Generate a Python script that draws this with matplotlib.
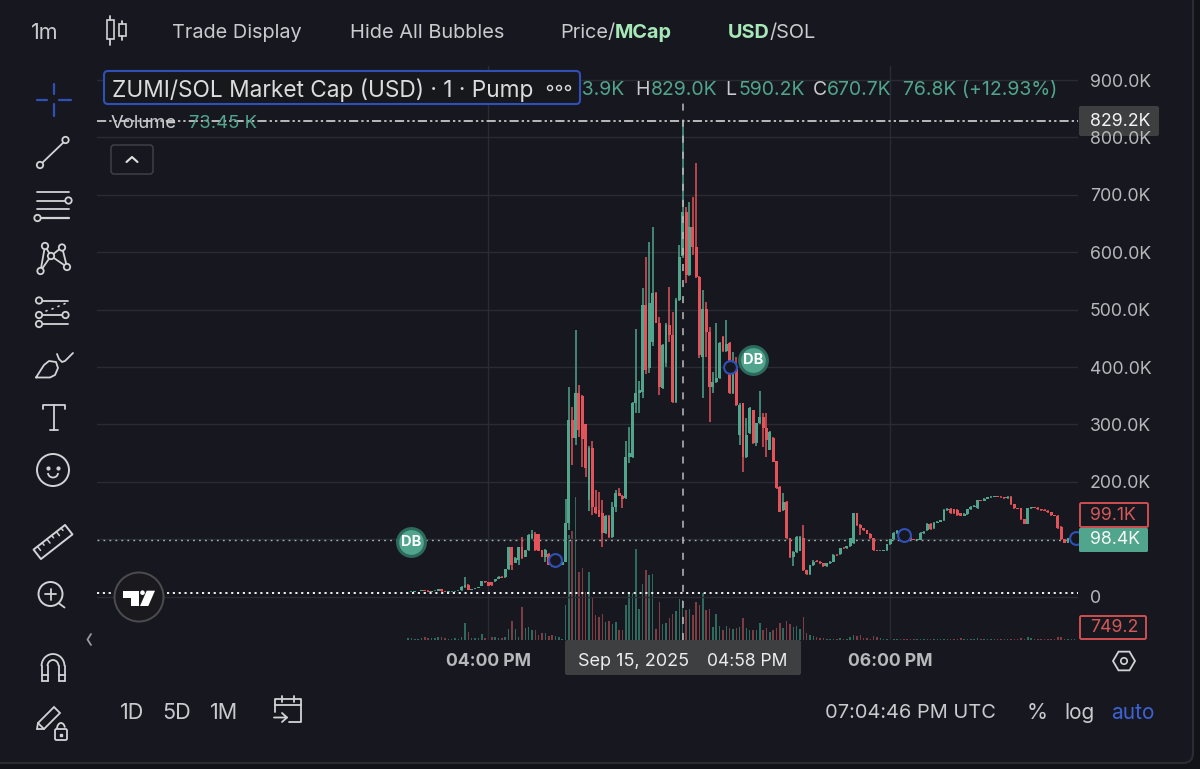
import numpy as np
import matplotlib
matplotlib.use('Agg')
import matplotlib.pyplot as plt
from matplotlib.patches import Circle, FancyBboxPatch, Polygon, Rectangle, Arc

plt.rcParams['font.family'] = ['Inter', 'DejaVu Sans']

# one candle per minute, minutes are counted from 04:00 PM, values in K
first_minute = -24
opens = [8, 8.5, 9, 9.5, 10, 11.5, 10, 9, 10, 10.5,
         13, 9.5, 9, 9.5, 9.5, 10, 11, 17, 20, 12,
         13, 15, 19, 27, 25, 26, 27, 31, 35, 34,
         48, 86, 59, 64, 86, 70, 81, 102, 110, 109,
         81, 70, 75, 56, 53, 55, 56, 61, 128, 308,
         276, 355, 350, 300, 168, 259, 156, 151, 145, 111,
         141, 104, 156, 180, 176, 172, 243, 243, 337, 355,
         356, 508, 398, 444, 529, 477, 364, 407, 473, 456,
         339, 517, 593.9, 670, 560, 644, 609, 557, 418, 501,
         461, 365, 374, 381, 452, 428, 442, 355, 400, 281,
         337, 243, 285, 325, 268, 302, 313, 294, 256, 276,
         236, 191, 151, 165, 102, 69, 78, 80, 102, 46,
         39, 55, 63, 61, 58, 53, 58, 61, 73, 74,
         85, 84, 88, 93, 145, 125, 119, 116, 110, 102,
         81, 80, 80, 81, 91, 100, 111, 115, 112, 108,
         103, 100, 99, 99, 111, 116, 127, 119, 129, 131,
         133, 151, 153, 152, 151, 145, 141, 144, 152, 157,
         154, 168, 167, 171, 173, 174, 175.5, 174, 173, 172.5,
         174, 161, 154, 154, 135, 127, 154, 156, 155, 152,
         151, 150, 147, 142, 141, 122, 100, 94, 102, 97]
closes = [8.5, 9, 9.5, 10, 11, 10, 9, 10, 10.5, 13,
          9.5, 9, 9.5, 9.5, 10, 10.5, 17, 20, 12, 13,
          15, 17, 27, 25, 19, 20, 31, 35, 33, 48,
          86, 55, 68, 86, 68, 81, 107, 110, 81, 80,
          70, 81, 56, 53, 55, 56, 60, 128, 308, 276,
          355, 290, 275, 224, 259, 156, 145, 139, 111, 141,
          104, 156, 180, 176, 170, 243, 250, 337, 355, 360,
          508, 395, 511, 529, 477, 365, 438, 473, 456, 339,
          517, 592, 670.7, 560, 644, 609, 557, 421, 501, 461,
          365, 374, 381, 442, 428, 440, 355, 395, 334, 334,
          243, 281, 329, 268, 302, 313, 294, 273, 287, 235,
          189, 148, 165, 102, 69, 78, 104, 104, 46, 39,
          55, 60, 61, 58, 53, 58, 61, 73, 72, 84,
          84, 88, 102, 145, 125, 119, 116, 110, 102, 81,
          80, 80.5, 81, 91, 100, 111, 115, 112, 108, 103,
          100, 99, 100, 111, 113, 127, 118, 129, 131, 133,
          151, 153, 145, 145, 142, 141, 144, 152, 157, 158,
          168, 167, 171, 173, 174, 175.5, 174, 173, 172.5, 174,
          161, 154, 153.5, 135, 127, 154, 156, 155, 152, 151,
          150, 147, 142, 141, 119, 100, 94, 102, 102.5, 98.4]
highs = [9, 9.5, 10, 10, 11.5, 12.5, 11, 10.5, 11, 14,
         13.5, 10, 10, 10, 10.5, 11, 18, 35, 22, 14,
         15.5, 17.5, 28, 27.5, 26, 26.5, 31.5, 35.5, 36, 49,
         87, 87, 69, 87, 104, 82, 110, 117, 113, 110,
         82, 83, 76, 57, 56, 57, 61, 171, 366, 331,
         465, 369, 352, 301, 262, 271, 186, 182, 168, 142,
         142, 165, 186, 189, 177, 271, 296, 340, 466, 376,
         538, 592, 618, 644, 530, 487, 440, 476, 540, 496,
         520, 613, 829, 679, 688, 696, 756, 558, 534, 513,
         470, 391, 477, 443, 454, 482, 443, 426, 418, 337,
         338, 311, 330, 326, 303, 358, 320, 320, 288, 278,
         237, 192, 180, 166, 103, 79, 105, 105, 125, 47,
         56, 64, 64, 62, 59, 59, 62, 74, 74, 85,
         86, 89, 103, 146, 146, 126, 120, 117, 111, 103,
         82, 81, 81, 92, 101, 112, 116, 116, 113, 109,
         104, 101, 101, 112, 114, 128, 128, 130, 132, 134,
         152, 154, 154, 153, 152, 146, 145, 153, 158, 159,
         169, 169, 172, 174, 175, 176, 176, 175, 174, 175,
         175, 162, 155, 155, 136, 155, 157, 157, 156, 153,
         152, 151, 148, 143, 142, 123, 101, 103, 103, 99]
lows = [8, 8.5, 9, 9.5, 10, 10, 9, 9, 10, 10,
        9, 8.5, 9, 9, 9, 10, 10.5, 16, 11, 12,
        13, 15, 18, 24, 18, 19, 26, 30, 33, 33,
        47, 46, 58, 55, 66, 69, 80, 100, 80, 79,
        69, 61, 55, 52, 52, 54, 55, 60, 116, 229,
        264, 279, 226, 208, 150, 142, 144, 138, 87, 110,
        103, 103, 147, 175, 155, 170, 233, 242, 320, 320,
        346, 388, 390, 436, 476, 351, 362, 400, 444, 337,
        338, 516, 590.2, 546, 558, 595, 556, 416, 346, 418,
        304, 355, 373, 380, 427, 427, 353, 353, 332, 264,
        217, 242, 284, 266, 262, 301, 261, 243, 255, 234,
        188, 147, 150, 101, 68, 53, 77, 79, 45, 38,
        38, 54, 60, 57, 52, 52, 57, 60, 71, 73,
        83, 83, 87, 92, 124, 107, 115, 109, 101, 80,
        79, 79.5, 79.5, 80, 90, 99, 110, 111, 107, 102,
        99, 98, 98, 98, 110, 115, 117, 118, 128, 130,
        132, 150, 144, 144, 141, 140, 140, 143, 151, 156,
        153, 166, 166, 170, 172, 173, 173, 172, 171, 171,
        160, 153, 152, 134, 126, 126, 153, 154, 151, 150,
        149, 146, 141, 140, 118, 99, 93, 93, 101, 96]
volumes = [3.7, 2.8, 1.8, 1.8, 3.7, 5.5, 3.7, 3.7, 2.8, 5.5,
           5.5, 3.7, 1.8, 1.8, 2.8, 1.8, 5.5, 31, 15, 3.7,
           2.8, 3.7, 11, 3.7, 3.7, 5.5, 5.5, 3.7, 3.7, 5.5,
           20, 35, 20, 5.5, 61, 22, 24, 17, 17, 9,
           13, 13, 7, 9, 7, 5.5, 1.8, 64, 193, 199,
           263, 125, 131, 88, 125, 79, 46, 42, 48, 33,
           35, 29, 33, 18, 18, 63, 86, 86, 166, 57,
           103, 129, 118, 120, 20, 70, 28, 31, 40, 48,
           53, 74, 73.45, 55, 57, 46, 70, 63, 86, 55,
           57, 24, 48, 26, 18, 26, 22, 20, 22, 24,
           40, 22, 18, 17, 17, 31, 18, 22, 15, 17,
           22, 31, 22, 35, 28, 24, 26, 20, 42, 13,
           9, 7, 5.5, 3.7, 2.8, 1.8, 1.8, 1.8, 1.8, 2.8,
           1.8, 1.8, 5.5, 9, 7, 9, 3.7, 2.8, 1.8, 7,
           5.5, 2.8, 1.8, 1.8, 1.8, 1.8, 1.8, 1.8, 1.8, 1.8,
           1.8, 1.8, 1.8, 1.8, 1.8, 1.8, 1.8, 1.8, 1.8, 1.8,
           1.8, 1.8, 1.8, 1.8, 1.8, 2.8, 1.8, 1.8, 1.8, 1.8,
           3.7, 1.8, 1.8, 1.8, 1.8, 1.8, 1.8, 1.8, 1.8, 1.8,
           1.8, 1.8, 1.8, 3.7, 1.8, 4.6, 3.7, 1.8, 1.8, 1.8,
           1.8, 1.8, 1.8, 1.8, 5.5, 5.5, 1.8, 1.8, 1.8, 0.75]

y_ticks = [0, 100, 200, 300, 400, 500, 600, 700, 800, 900]
y_tick_labels = ['0', '100.0K', '200.0K', '300.0K', '400.0K', '500.0K',
                 '600.0K', '700.0K', '800.0K', '900.0K']
x_ticks = [0, 120]
x_tick_labels = ['04:00 PM', '06:00 PM']
hover_minute = 58
hover_high = 829.2
last_price = 98.4
white_level = 7.3
bubble_minutes = [-23, 79]
bubble_values = [95, 412]
mark_minutes = [20, 72, 124, 175.4]
mark_values = [64, 400, 108, 102]

BG = '#17181f'
OUTER = '#121318'
GREEN = '#50a58c'
RED = '#e2545a'
VOL_GREEN = '#2f6a5f'
VOL_RED = '#7c3d43'
GRID = '#2a2b33'
ICON = '#d2d3d6'
AXIS_TEXT = '#b7b8bb'
MENU_TEXT = '#c9cacd'
BLUE = '#2f50b8'

minutes = np.arange(len(opens)) + first_minute
opens = np.array(opens)
closes = np.array(closes)
highs = np.array(highs)
lows = np.array(lows)
up = closes >= opens

fig = plt.figure(figsize=(12, 7.69), dpi=100, facecolor=OUTER)

# chart pane, pixel box 97..1078 x 66..640
pane = [97 / 1200, 1 - 640 / 769, 981 / 1200, 574 / 769]
ax_vol = fig.add_axes(pane, zorder=1)
ax_vol.set_xlim(-116.87, 176.0)
ax_vol.set_ylim(-0.5, 1054)
ax_vol.axis('off')
ax_vol.bar(minutes[up], np.array(volumes)[up], width=0.45, color=VOL_GREEN)
ax_vol.bar(minutes[~up], np.array(volumes)[~up], width=0.45, color=VOL_RED)

ax = fig.add_axes(pane, zorder=2)
ax.patch.set_alpha(0)
ax.set_xlim(-116.87, 176.0)
ax.set_ylim(-75.4, 924.5)
ax.set_xticks([])
ax.set_yticks([])
for s in ax.spines.values():
    s.set_visible(False)

for t in y_ticks:
    ax.axhline(t, color=GRID, lw=1, zorder=0)
for t in x_ticks:
    ax.axvline(t, color=GRID, lw=1, zorder=0)

ax.vlines(minutes[up], lows[up], highs[up], color=GREEN, lw=1.1, zorder=3)
ax.vlines(minutes[~up], lows[~up], highs[~up], color=RED, lw=1.1, zorder=3)
ax.bar(minutes[up], (closes - opens)[up], bottom=opens[up], width=0.85, color=GREEN, zorder=3)
ax.bar(minutes[~up], (closes - opens)[~up], bottom=opens[~up], width=0.85, color=RED, zorder=3)

ax.axhline(last_price, color='#9fb5ae', lw=1, ls=(0, (1.3, 3)), zorder=2)
ax.axhline(white_level, color='#f2f2f2', lw=1.4, ls=(0, (1.1, 1.9)), zorder=4)
ax.axhline(hover_high, color='#e6e6e6', lw=1.1, ls=(0, (6, 2, 1.5, 2, 1.5, 2)), zorder=5)
ax.vlines(hover_minute, -75.4, 862, color='#bdbdbd', lw=1.1, ls=(0, (4.6, 5.9)), zorder=5)

ax.scatter(mark_minutes, mark_values, s=85, facecolor=BG, edgecolor=BLUE, lw=1.5, zorder=6)
ax.scatter(bubble_minutes, bubble_values, s=400, facecolor=GREEN, edgecolor='#2d6a5e', lw=2.2, zorder=6)
for m, v in zip(bubble_minutes, bubble_values):
    ax.text(m, v, 'DB', color='white', fontsize=10.5, fontweight='bold', ha='center', va='center', zorder=7)

# everything around the chart is drawn in screen pixels
ui = fig.add_axes([0, 0, 1, 1], zorder=5)
ui.set_xlim(0, 1200)
ui.set_ylim(769, 0)
ui.axis('off')
ui.patch.set_alpha(0)

# the panel itself sits behind the chart
back = fig.add_axes([0, 0, 1, 1], zorder=0)
back.set_xlim(0, 1200)
back.set_ylim(769, 0)
back.axis('off')
back.add_patch(FancyBboxPatch((-30, -30), 1223, 793, boxstyle='round,pad=0,rounding_size=10',
                              facecolor=BG, edgecolor='#2c2d33', lw=1.5))


def label(x, y, s, size=11.5, color=MENU_TEXT, ha='left', weight='normal', z=10):
    # inter sits a little high with va=center
    return ui.text(x, y + 2, s, fontsize=size, color=color, ha=ha, va='center', fontweight=weight, zorder=z)


def line(xs, ys, color=ICON, lw=1.3, z=12):
    ui.plot(xs, ys, color=color, lw=lw, solid_capstyle='round', zorder=z)


def ring(x, y, r, color=ICON, lw=1.3, face=BG):
    ui.add_patch(Circle((x, y), r, facecolor=face, edgecolor=color, lw=lw, zorder=13 if r < 5 else 11))


# top menu
label(31, 31, '1m', 15.5)
label(172, 31, 'Trade Display', 14.3)
label(350, 31, 'Hide All Bubbles', 14.4)
label(560, 31, 'Price/', 14.3)
label(615, 31, 'MCap', 14.3, '#a7e8b8', weight='bold')
label(728, 31, 'USD', 14.3, '#a7e8b8', weight='bold')
label(770, 31, '/SOL', 14.3)

# candle icon in the menu
ui.add_patch(Rectangle((107, 20), 6.5, 19, fill=False, edgecolor=ICON, lw=1.2))
line([110.3, 110.3], [16, 20])
line([110.3, 110.3], [39, 44.5])
ui.add_patch(Rectangle((119, 24), 6.5, 12, fill=False, edgecolor=ICON, lw=1.2))
line([122.2, 122.2], [20.5, 24])
line([122.2, 122.2], [36, 40])

# legend
label(559, 88, '593.9K', 14, GREEN, z=8)
label(635, 88, 'H', 14, MENU_TEXT)
label(651, 88, '829.0K', 14, GREEN)
label(725, 88, 'L', 14, MENU_TEXT)
label(738, 88, '590.2K', 14, GREEN)
label(813, 88, 'C', 14, MENU_TEXT)
label(827, 88, '670.7K', 14, GREEN)
label(903, 88, '76.8K (+12.93%)', 14, GREEN)
ui.add_patch(FancyBboxPatch((104, 71), 476, 33, boxstyle='round,pad=0,rounding_size=4',
                            facecolor='#17181c', edgecolor=BLUE, lw=1.5, zorder=9))
label(112, 88, 'ZUMI/SOL Market Cap (USD) · 1 · Pump', 16.3, '#dcdcdc')
for cx in [550, 559, 568]:
    ui.add_patch(Circle((cx, 88), 2.5, fill=False, edgecolor='#dcdcdc', lw=1, zorder=10))
label(111, 122, 'Volume', 13.3, '#c9cacd')
label(189, 122, '73.45 K', 13.3, GREEN)
ui.add_patch(FancyBboxPatch((111, 145), 42, 29, boxstyle='round,pad=0,rounding_size=3',
                            facecolor=BG, edgecolor='#3c3d42', lw=1.2, zorder=9))
line([126.5, 132, 137.5], [162, 157, 162], '#e0e0e0', 1.5)

# left tool bar
line([53.5, 53.5], [84, 94], BLUE, 1.6)
line([53.5, 53.5], [104, 116], BLUE, 1.6)
line([37, 47], [100, 100], BLUE, 1.6)
line([59, 71], [100, 100], BLUE, 1.6)

line([40, 66], [165, 140])
ring(40, 165, 3.2)
ring(65.5, 140, 3.2)

line([37, 69], [191.5, 191.5])
line([37, 65], [200.5, 200.5])
line([37, 69], [209, 209])
line([41, 69], [218, 218], lw=1.6)
ring(68.5, 200.5, 3.2)
ring(37.5, 218, 3.2)

line([45, 51, 62, 67, 51, 40.5, 45], [246, 256, 247, 267, 256, 271, 246])
for cx, cy in [(45, 246), (62, 247.5), (51, 256), (40.5, 271), (67, 267)]:
    ring(cx, cy, 3.2)

line([39, 68], [300.5, 300.5])
line([39, 66], [315, 315])
line([39, 68], [324, 324])
for cx, cy in [(46, 311), (52, 309), (58, 306.5), (64, 304)]:
    line([cx, cx + 1], [cy, cy - 0.4], lw=1.2)
for cx, cy in [(39, 300.5), (39, 315), (65.5, 315), (39, 324)]:
    ring(cx, cy, 3.2)

line([36, 50, 55, 58, 56, 49, 44, 36], [377.5, 377.5, 375, 368, 362, 361, 365, 377.5])
line([57, 59, 62, 65, 73], [354, 359, 362, 361, 353])

line([43, 43, 65, 65], [409, 405, 405, 409])
line([53.7, 53.7], [405, 430])
line([50, 57.5], [430, 430])

ring(53, 470, 16, lw=1.4)
ui.plot([48], [468], 'o', color=ICON, ms=2, zorder=12)
ui.plot([58], [468], 'o', color=ICON, ms=2, zorder=12)
ui.add_patch(Arc((53, 473), 10, 9, theta1=0, theta2=180, edgecolor=ICON, lw=1.3, zorder=12))

# ruler, turned by hand with a small rotation
ang = np.radians(-38)
rot = np.array([[np.cos(ang), -np.sin(ang)], [np.sin(ang), np.cos(ang)]])
corners = np.array([[-20, -6], [20, -6], [20, 6], [-20, 6]]) @ rot.T + [53, 542]
ui.add_patch(Polygon(corners, closed=True, fill=False, edgecolor=ICON, lw=1.4, joinstyle='round'))
for k in range(-15, 16, 6):
    tick = np.array([[k, -6], [k, -1 if (k + 15) % 12 == 0 else -3]]) @ rot.T + [53, 542]
    line(tick[:, 0], tick[:, 1], lw=1.1)

ring(50.5, 594, 12, lw=1.4)
line([45, 56], [594, 594])
line([50.5, 50.5], [588.5, 599.5])
line([58.5, 64.5], [603, 607.5])

line([91, 87.5, 91], [634, 639.5, 645], '#9a9ba0', 1.3)

line([41.5, 41.5], [681, 666])
line([64.5, 64.5], [681, 666])
ui.add_patch(Arc((53, 666), 23, 24, theta1=180, theta2=360, edgecolor=ICON, lw=1.3, zorder=11))
ui.add_patch(Arc((53, 666), 11, 12, theta1=180, theta2=360, edgecolor=ICON, lw=1.3, zorder=11))
line([47.5, 47.5], [666, 681])
line([58.5, 58.5], [666, 681])
line([41.5, 47.5], [681, 681])
line([58.5, 64.5], [681, 681])
line([41.5, 47.5], [675, 675])
line([58.5, 64.5], [675, 675])

ui.add_patch(Polygon([(37, 729), (38, 723), (54, 707), (60, 713), (44, 729)], closed=True,
                     fill=False, edgecolor=ICON, lw=1.3))
line([38, 44], [723, 729])
ui.add_patch(FancyBboxPatch((55, 729), 12, 11, boxstyle='round,pad=0,rounding_size=1.5',
                            fill=False, edgecolor=ICON, lw=1.3, zorder=11))
ui.add_patch(Arc((61, 729), 8, 12, theta1=180, theta2=340, edgecolor=ICON, lw=1.3, zorder=11))
ui.plot([61], [734.5], 's', color=ICON, ms=1.8)

# bottom bar
label(132, 711, '1D', 15.5, ha='center')
label(177, 711, '5D', 15.5, ha='center')
label(224, 711, '1M', 15.5, ha='center')
line([275, 275, 301, 301, 297, 289], [712, 699, 699, 722, 722, 722])
line([275, 301], [705, 705])
line([282, 282], [696, 702])
line([294, 294], [696, 702])
line([274, 287, 282], [717.5, 717.5, 713])
line([287, 282], [717.5, 722])
label(825, 711, '07:04:46 PM UTC', 14.4)
label(1037, 711, '%', 15.5, ha='center')
label(1080, 711, 'log', 15, ha='center')
label(1133, 711, 'auto', 15, '#3e62d6', ha='center')

# price scale
for t, s in zip(y_ticks, y_tick_labels):
    if t == 100:
        continue
    y = 596.7 - t * 0.574
    label(1090, y, s, 12.8, AXIS_TEXT)

ui.add_patch(FancyBboxPatch((1079, 106), 80, 30, boxstyle='round,pad=0,rounding_size=2',
                            facecolor='#3e3f41', edgecolor='none', zorder=9))
label(1090, 120, '829.2K', 12.8, '#f4f4f4')
ui.add_patch(FancyBboxPatch((1080, 503), 68, 24, boxstyle='round,pad=0,rounding_size=1.5',
                            facecolor=BG, edgecolor='#cf4f50', lw=1.4, zorder=9))
label(1090, 513, '99.1K', 12.8, '#d3595b')
ui.add_patch(FancyBboxPatch((1079, 528), 69, 24, boxstyle='round,pad=0,rounding_size=1.5',
                            facecolor=GREEN, edgecolor='none', zorder=9))
label(1090, 538, '98.4K', 12.8, '#f7f7f7')
ui.add_patch(FancyBboxPatch((1080, 616), 66, 23, boxstyle='round,pad=0,rounding_size=1.5',
                            facecolor=BG, edgecolor='#cf4f50', lw=1.4, zorder=9))
label(1090, 626, '749.2', 12.8, '#d3595b')

# time scale
for t, s in zip(x_ticks, x_tick_labels):
    label(488.5 + 3.35 * t, 660, s, 12.7, AXIS_TEXT, ha='center', weight='bold')
ui.add_patch(FancyBboxPatch((565, 640), 236, 35, boxstyle='round,pad=0,rounding_size=2',
                            facecolor='#3e3f41', edgecolor='none', zorder=9))
label(578, 660, 'Sep 15, 2025', 13, '#ececec')
label(707, 660, '04:58 PM', 12.6, '#ececec')

hx = 1124 + 11 * np.array([1, 0.5, -0.5, -1, -0.5, 0.5])
hy = 661 + 11 * np.array([0, 0.85, 0.85, 0, -0.85, -0.85])
ui.add_patch(Polygon(np.column_stack([hx, hy]), closed=True, fill=False, edgecolor=ICON, lw=1.3))
ui.add_patch(Circle((1124, 661), 3.2, fill=False, edgecolor=ICON, lw=1.2))

# tradingview badge
ui.add_patch(Circle((139, 597), 24.5, facecolor='#1a1a1e', edgecolor='#4c4c50', lw=1.4, zorder=9))
ui.add_patch(Polygon([(123.3, 590.7), (139.3, 590.7), (139.3, 606), (130.7, 606),
                      (130.7, 597.7), (123.3, 597.7)], closed=True, facecolor='white', zorder=10))
ui.add_patch(Circle((142.5, 592.7), 2.3, facecolor='white', zorder=10))
ui.add_patch(Polygon([(146.7, 590.7), (155, 590.7), (148.3, 606), (140, 606)], closed=True,
                     facecolor='white', zorder=10))

fig.savefig('out.png', dpi=100, facecolor=OUTER)
